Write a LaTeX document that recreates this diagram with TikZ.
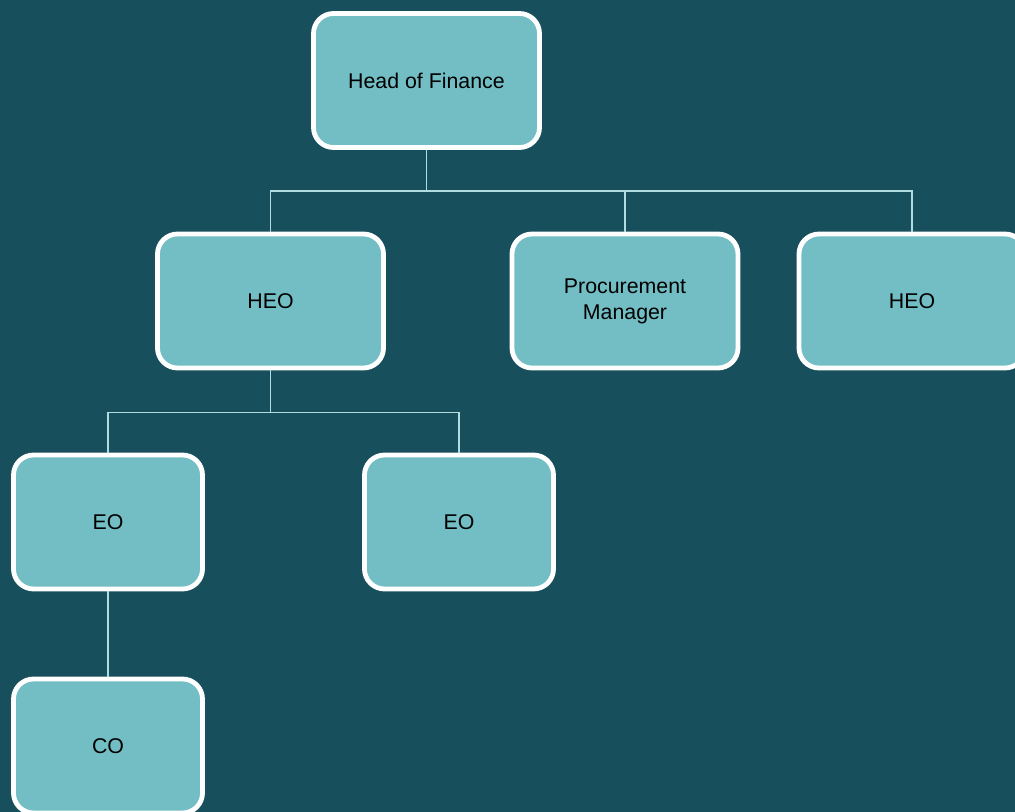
\documentclass[tikz,border=0pt]{standalone}
\usepackage{fontspec}
\setmainfont{Liberation Sans}
\definecolor{bgteal}{HTML}{174F5C}
\definecolor{boxteal}{HTML}{72BEC4}
\definecolor{linkteal}{HTML}{B2DDE0}
\begin{document}
\begin{tikzpicture}[x=0.75pt,y=-0.75pt,
	post/.style={draw=white,line width=3.6pt,fill=boxteal,rounded corners=15pt,
		minimum width=226*0.75pt,minimum height=134*0.75pt,align=center,
		font=\fontsize{16}{19.5}\selectfont,text=black},
	short/.style={minimum width=189*0.75pt},
	link/.style={draw=linkteal,line width=1.3pt}]
	\fill[bgteal] (0,0) rectangle (1015,812);
	\useasboundingbox (0,0) rectangle (1015,812);
	% top level
	\node[post] (hof) at (426.5,80.5) {Head of Finance};
	% second level
	\node[post] (heoa) at (270.5,301) {HEO};
	\node[post] (pm) at (625,301) {Procurement\\Manager};
	\node[post] (heob) at (912,301) {HEO};
	% third level
	\node[post,short] (eoa) at (108,522) {EO};
	\node[post,short] (eob) at (459,522) {EO};
	% fourth level
	\node[post,short] (co) at (108,746) {CO};
	% connectors
	\draw[link] (hof.south) -- ++(0,41) -| (heoa.north);
	\draw[link] (hof.south) ++(0,41) -| (pm.north);
	\draw[link] (hof.south) ++(0,41) -| (heob.north);
	\draw[link] (heoa.south) -- ++(0,42) -| (eoa.north);
	\draw[link] (heoa.south) ++(0,42) -| (eob.north);
	\draw[link] (eoa.south) -- (co.north);
\end{tikzpicture}
\end{document}
